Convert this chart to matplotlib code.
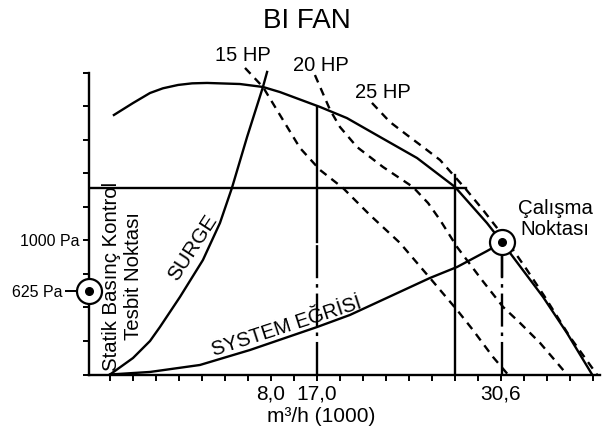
import numpy as np
import matplotlib
matplotlib.use('Agg')
import matplotlib.pyplot as plt

plt.rcParams['font.family'] = ['Liberation Sans', 'DejaVu Sans']

# x: tick index along the flow axis (schematic), y: static pressure in Pa
fan_x = [0.17, 1.0, 1.74, 2.30, 2.96, 3.57, 4.22, 5.65, 6.65, 7.39, 9.13, 10.30, 11.74, 13.35, 15.0, 16.39, 17.05, 18.83, 19.87, 20.96]
fan_p = [1936, 2025, 2100, 2135, 2160, 2172, 2175, 2167, 2145, 2107, 1996, 1913, 1772, 1615, 1399, 1130, 985, 578, 309, 0]

surge_x = [0, 1.0, 1.74, 2.17, 3.04, 4.04, 4.78, 5.30, 5.96, 6.65, 6.83]
surge_p = [0, 123, 250, 354, 578, 854, 1130, 1391, 1772, 2145, 2257]

system_x = [0, 1.74, 3.91, 6.09, 9.0, 10.43, 13.91, 15.09, 16.39, 17.05]
system_p = [0, 19, 71, 183, 354, 444, 720, 802, 921, 985]

hp15_x = [5.87, 6.65, 7.52, 8.26, 9.13, 10.13, 11.30, 12.61, 13.91, 15.09, 15.78, 16.65, 17.30]
hp15_p = [2287, 2145, 1899, 1690, 1526, 1391, 1190, 981, 720, 481, 332, 131, 0]

hp20_x = [8.91, 9.57, 10.0, 10.74, 11.87, 13.17, 13.83, 14.35, 15.09, 16.17, 17.09, 17.83, 18.70, 19.87]
hp20_p = [2234, 1973, 1846, 1697, 1548, 1399, 1279, 1153, 951, 705, 504, 384, 235, 0]

hp25_x = [11.39, 12.17, 12.91, 13.61, 14.35, 15.43, 16.22, 17.17, 18.13, 18.91, 20.0, 21.17]
hp25_p = [2026, 1884, 1787, 1697, 1600, 1391, 1227, 1018, 780, 578, 280, 0]

hp_labels = ['15 HP', '20 HP', '25 HP']
hp_label_x = [5.78, 9.17, 11.87]
hp_label_p = [2380, 2305, 2105]

control_p = 1391          # horizontal control line
control_x_end = 15.48
x_17 = 9.0                # 17,0 line
x_17_top = 1996
x_17_solid_end = 985
x_int = 15.0              # intermediate vertical line
x_int_top = 1489
op_x, op_p = 17.05, 985   # Çalışma Noktası
set_p = 625               # Statik basınç kontrol noktası

xtick_pos = list(range(0, 22))
xtick_lab = {7: '8,0', 9: '17,0', 17: '30,6'}
ytick_pos = [250 * k for k in range(0, 10)]

fig = plt.figure(figsize=(6.04, 4.33), dpi=100)
ax = fig.add_axes([89 / 604, 58.5 / 433, 511 / 604, 334.5 / 433])
x_left = (89 - 110) / 23
x_right = (600 - 110) / 23
ax.set_xlim(x_left, x_right)
ax.set_ylim(0, 334.5 * 7.46)

lw = 1.7
k = 'black'
dash = (0, (3.4, 2.6))
dashdot = (0, (14, 2.5, 1.5, 2.5))

ax.plot(fan_x, fan_p, color=k, lw=lw)
ax.plot(surge_x, surge_p, color=k, lw=lw)
ax.plot(system_x, system_p, color=k, lw=lw)
for xs, ps in [(hp15_x, hp15_p), (hp20_x, hp20_p), (hp25_x, hp25_p)]:
    ax.plot(xs, ps, color=k, lw=lw, linestyle=dash)

ax.plot([x_left, control_x_end], [control_p, control_p], color=k, lw=lw)
ax.plot([x_int, x_int], [0, x_int_top], color=k, lw=lw)
ax.plot([x_17, x_17], [x_17_solid_end, x_17_top], color=k, lw=lw)
ax.plot([x_17, x_17], [0, x_17_solid_end], color=k, lw=lw, linestyle=dashdot)
ax.plot([op_x, op_x], [0, op_p - 100], color=k, lw=lw, linestyle=dashdot)
ax.plot([op_x, op_x], [op_p - 250, op_p], color=k, lw=lw)

# point markers
for px, pp in [(op_x, op_p), (x_left, set_p)]:
    ax.plot(px, pp, 'o', ms=18, mfc='white', mec=k, mew=1.6, zorder=5, clip_on=False)
    ax.plot(px, pp, 'o', ms=5.5, color=k, zorder=6, clip_on=False)

# axes styling
for s in ['top', 'right']:
    ax.spines[s].set_visible(False)
ax.spines['left'].set_bounds(0, 2250)
ax.spines['left'].set_linewidth(lw)
ax.spines['bottom'].set_linewidth(lw)

ax.set_xticks(xtick_pos)
ax.set_xticklabels([xtick_lab.get(i, '') for i in xtick_pos], fontsize=15)
ax.tick_params(axis='x', direction='out', length=4, width=1.4, pad=3)

ax.set_yticks(ytick_pos)
ax.set_yticklabels(['1000 Pa' if v == 1000 else '' for v in ytick_pos], fontsize=11.5)
ax.tick_params(axis='y', direction='out', length=4, width=1.4, pad=3)
ax.set_yticks([set_p], minor=True)
ax.set_yticklabels(['625 Pa'], minor=True, fontsize=11.5)
ax.tick_params(axis='y', which='minor', direction='out', length=17, width=1.4, pad=2)

ax.set_xlabel('m³/h (1000)', fontsize=15)
ax.xaxis.set_label_coords((321 - 89) / 511, -0.098)

# texts
for lab, lx, lp in zip(hp_labels, hp_label_x, hp_label_p):
    ax.text(lx, lp, lab, fontsize=14.5, ha='center', va='center')

ax.text(3.6, 944, 'SURGE', fontsize=15, rotation=57, ha='center', va='center')
ax.text(7.7, 355, 'SYSTEM EĞRİSİ', fontsize=14.5, rotation=18, ha='center', va='center')
ax.text(0.55, 735, 'Statik Basınç Kontrol\nTesbit Noktası', fontsize=14.7, rotation=90,
        ha='center', va='center', multialignment='center', linespacing=1.2)
ax.text(19.35, 1160, 'Çalışma\nNoktası', fontsize=14.7, ha='center', va='center',
        linespacing=1.15)

fig.text(307 / 604, 1 - 21 / 433, 'BI FAN', fontsize=20, ha='center', va='center')

fig.savefig('out.png', dpi=100)
